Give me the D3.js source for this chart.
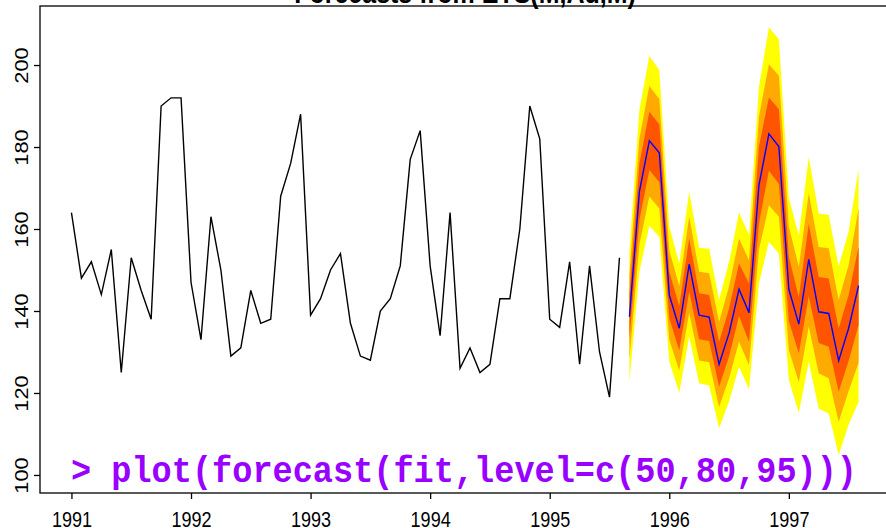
<!DOCTYPE html>
<html>
<head>
<meta charset="utf-8">
<script src="https://cdn.jsdelivr.net/npm/d3@7"></script>
<style>
  body { margin: 0; background: #fff; }
  svg { display: block; }
</style>
</head>
<body>
<svg width="886" height="528"></svg>
<script>
// observed monthly series, Jan 1991 .. Aug 1995
let obsStart = 1991;
let obsValues = [
    164, 148, 152, 144, 155, 125, 153, 145, 138, 190, 192, 192,
    147, 133, 163, 150, 129, 131, 145, 137, 138, 168, 176, 188,
    139, 143, 150, 154, 137, 129, 128, 140, 143, 151, 177, 184,
    151, 134, 164, 126, 131, 125, 127, 143, 143, 160, 190, 182,
    138, 136, 152, 127, 151, 130, 119, 153
];

// forecasts, Sep 1995 .. Aug 1997
let fcStart = 1995 + 8 / 12;
let fcMean = [138.6, 169.1, 181.5, 178.6, 143.9, 135.8, 151.4, 139.0, 138.5, 127.0, 134.6, 145.3,
              139.6, 170.7, 183.2, 180.1, 145.3, 136.8, 152.6, 139.8, 139.4, 127.9, 135.8, 146.2];
let lo95 = [122.8, 149.6, 160.8, 158.1, 127.6, 120.1, 133.7, 122.4, 121.8, 111.4, 117.9, 126.4,
            120.9, 146.7, 156.9, 154.0, 123.2, 115.2, 127.6, 116.2, 115.0, 104.9, 112.3, 117.8];
let hi95 = [154.4, 189.0, 202.2, 198.8, 160.7, 151.6, 169.1, 155.4, 155.2, 142.7, 152.0, 164.0,
            158.5, 194.7, 209.2, 206.3, 167.5, 158.5, 177.5, 163.8, 163.4, 150.9, 159.3, 174.6];
let lo80 = [128.3, 156.2, 167.9, 165.0, 133.0, 125.5, 139.6, 127.9, 127.5, 116.6, 123.6, 132.5,
            126.8, 154.9, 165.8, 163.0, 130.5, 122.7, 136.2, 124.8, 123.6, 113.0, 120.5, 127.4];
let hi80 = [148.9, 182.0, 194.9, 191.7, 154.8, 146.1, 163.0, 149.6, 149.2, 137.4, 146.0, 157.7,
            152.4, 187.4, 200.2, 197.4, 160.6, 150.8, 168.7, 155.6, 155.3, 142.7, 151.2, 165.0];
let lo50 = [133.2, 162.2, 174.4, 171.4, 138.2, 130.4, 144.7, 133.1, 132.7, 121.5, 128.9, 138.8,
            132.5, 161.4, 174.2, 171.0, 137.5, 129.7, 143.6, 132.2, 131.3, 120.3, 127.8, 136.6];
let hi50 = [144.0, 176.0, 188.6, 185.5, 149.6, 141.2, 157.7, 144.3, 143.9, 132.5, 140.6, 151.6,
            146.7, 180.1, 192.1, 189.2, 153.1, 143.5, 161.2, 148.3, 147.9, 135.8, 143.9, 155.7];

let xTicks = [1991, 1992, 1993, 1994, 1995, 1996, 1997];
let yTicks = [100, 120, 140, 160, 180, 200];
let title = "Forecasts from ETS(M,Ad,M)";
let command = "> plot(forecast(fit,level=c(50,80,95)))";

let svg = d3.select("svg"),
    box = {left: 40, right: 890, top: 6, bottom: 493};

let x = d3.scaleLinear().domain([1990.737, 1997.846]).range([box.left, box.right]),
    y = d3.scaleLinear().domain([95.6, 214.4]).range([box.bottom, box.top]);

let obs = obsValues.map(function (v, i) { return {t: obsStart + i / 12, v: v}; });
let fc = fcMean.map(function (v, i) {
    return {t: fcStart + i / 12, v: v,
            lo95: lo95[i], hi95: hi95[i], lo80: lo80[i], hi80: hi80[i], lo50: lo50[i], hi50: hi50[i]};
});

// shaded intervals, widest first
let bands = [
    {lo: "lo95", hi: "hi95", color: "#ffff00"},
    {lo: "lo80", hi: "hi80", color: "#ffaa00"},
    {lo: "lo50", hi: "hi50", color: "#ff5500"}
];
bands.forEach(function (b) {
    let area = d3.area()
        .x(function (d) { return x(d.t); })
        .y0(function (d) { return y(d[b.lo]); })
        .y1(function (d) { return y(d[b.hi]); });
    svg.append("path")
        .datum(fc)
        .attr("d", area)
        .attr("fill", b.color)
        .attr("stroke", "none");
});

let line = d3.line()
    .x(function (d) { return x(d.t); })
    .y(function (d) { return y(d.v); });

svg.append("path")
    .datum(fc)
    .attr("d", line)
    .attr("fill", "none")
    .attr("stroke", "#0000ff")
    .attr("stroke-width", 1.4);

svg.append("path")
    .datum(obs)
    .attr("d", line)
    .attr("fill", "none")
    .attr("stroke", "#000")
    .attr("stroke-width", 1.4);

// axes, R style
let font = "'Liberation Sans', Arial, sans-serif";

let gx = svg.append("g")
    .attr("transform", "translate(0," + box.bottom + ")")
    .call(d3.axisBottom(x).tickValues(xTicks).tickSize(6).tickFormat(d3.format("d")));
gx.select(".domain").remove();
gx.selectAll("line").attr("stroke", "#000").attr("stroke-width", 1.3);
gx.selectAll("text")
    .attr("y", 0).attr("dy", 0)
    .attr("transform", "translate(0,34) scale(0.95,1.15)")
    .style("font-family", font).style("font-size", "19px").attr("fill", "#000");

let gy = svg.append("g")
    .attr("transform", "translate(" + box.left + ",0)")
    .call(d3.axisLeft(y).tickValues(yTicks).tickSize(6));
gy.select(".domain").remove();
gy.selectAll("line").attr("stroke", "#000").attr("stroke-width", 1.3);
gy.selectAll("text")
    .attr("x", 0).attr("dy", 0)
    .attr("text-anchor", "middle")
    .attr("transform", "translate(-12,0) rotate(-90) scale(1.15,1)")
    .style("font-family", font).style("font-size", "19px").attr("fill", "#000");

svg.append("rect")
    .attr("x", box.left).attr("y", box.top)
    .attr("width", box.right - box.left).attr("height", box.bottom - box.top)
    .attr("fill", "none").attr("stroke", "#000").attr("stroke-width", 1.3);

svg.append("text")
    .attr("transform", "translate(" + (box.left + box.right) / 2 + ",3) scale(1,1.15)")
    .attr("text-anchor", "middle")
    .style("font-family", font).style("font-size", "25px").style("font-weight", "bold")
    .text(title);

svg.append("text")
    .attr("transform", "translate(71,482) scale(1,1.12)")
    .style("font-family", "'Liberation Mono', 'Courier New', monospace")
    .style("font-size", "33.6px").style("font-weight", "bold")
    .attr("fill", "#9900ff")
    .text(command);
</script>
</body>
</html>
